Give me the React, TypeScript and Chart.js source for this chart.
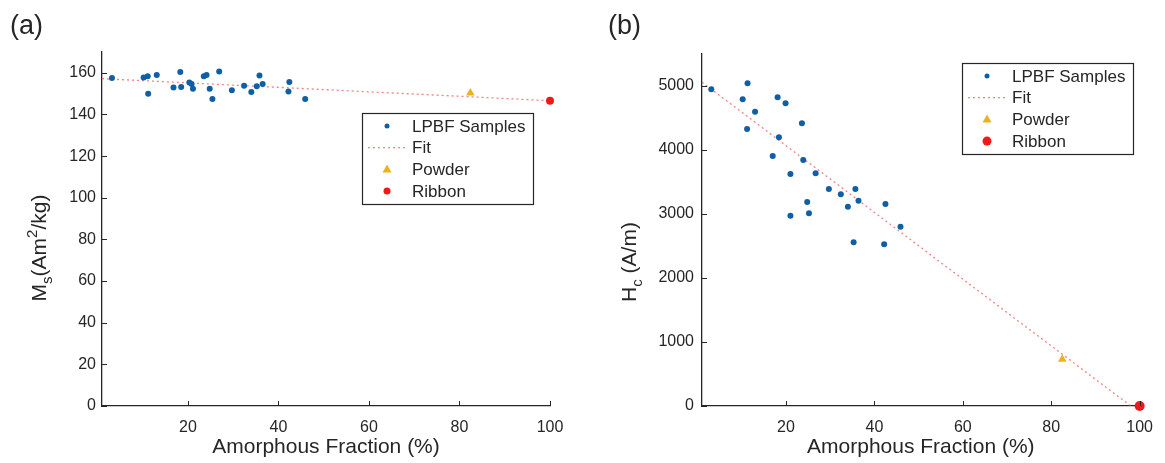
import React, { useEffect, useRef } from 'react';
import { Chart, registerables } from 'chart.js';

Chart.register(...registerables);

const FONT = '"Liberation Sans", Arial, Helvetica, sans-serif';
const TEXT = '#262626';
const BLUE = '#0f5fa6';
const ORANGE = '#EDB120';
const RED = '#f01818';
const FIT = 'rgba(235,90,90,0.75)';

// ---------- Panel (a): Ms vs amorphous fraction ----------
const msLpbfFraction = [3.2, 10.2, 11.1, 11.2, 13.1, 16.8, 18.3, 18.5, 20.3, 20.8, 21.1, 23.5, 24.1, 24.8, 25.4, 26.9, 29.7, 32.4, 34.0, 35.2, 35.8, 36.5, 42.4, 42.2, 45.9];
const msLpbfValues = [157.5, 157.8, 158.3, 149.9, 159.0, 153.0, 160.4, 153.2, 155.4, 154.6, 152.3, 158.4, 159.0, 152.3, 147.4, 160.6, 151.6, 153.8, 150.8, 153.5, 158.7, 154.6, 155.6, 151.0, 147.4];
const msFitFraction = [1, 100];
const msFitValues = [157.2, 146.6];
const msPowder = [82.4, 150.3];
const msRibbon = [100, 146.6];
const msYTicks = [0, 20, 40, 60, 80, 100, 120, 140, 160];

// ---------- Panel (b): Hc vs amorphous fraction ----------
const hcLpbfFraction = [3.1, 11.3, 10.2, 13.0, 11.2, 18.1, 19.9, 23.6, 18.4, 17.0, 23.9, 21.0, 26.7, 29.7, 32.4, 35.7, 36.4, 34.0, 24.8, 25.2, 21.0, 42.5, 45.9, 35.3, 42.2];
const hcLpbfValues = [4948, 5042, 4792, 4598, 4328, 4823, 4730, 4417, 4198, 3906, 3844, 3625, 3636, 3391, 3308, 3391, 3208, 3115, 3188, 3011, 2974, 3156, 2800, 2558, 2527];
const hcFitFraction = [1, 98];
const hcFitValues = [5060, 0];
const hcPowder = [82.5, 730];
const hcRibbon = [100, 0];
const hcYTicks = [0, 1000, 2000, 3000, 4000, 5000];

const xTicks = [20, 40, 60, 80, 100];
const legendLabels = ['LPBF Samples', 'Fit', 'Powder', 'Ribbon'];

type Part = { t: string; size: number; dy: number };

interface PanelSpec {
  letter: string;
  lpbf: { x: number; y: number }[];
  fit: { x: number; y: number }[];
  powder: number[];
  ribbon: number[];
  yMax: number;
  yTicks: number[];
  yWidth: number;
  padRight: number;
  padTop: number;
  yPad: number;
  yTitle: Part[];
  yTitleX: number;
  yTitleY: number;
  letterX: number;
  legendX: number;
  legendY: number;
  ribbonR: number;
}

const zip = (xs: number[], ys: number[]) => xs.map((x, i) => ({ x, y: ys[i] }));

function drawRich(ctx: CanvasRenderingContext2D, parts: Part[]) {
  let total = 0;
  for (const p of parts) {
    ctx.font = `${p.size}px ${FONT}`;
    total += ctx.measureText(p.t).width;
  }
  let x = -total / 2;
  for (const p of parts) {
    ctx.font = `${p.size}px ${FONT}`;
    ctx.fillText(p.t, x, p.dy);
    x += ctx.measureText(p.t).width;
  }
}

function makePlugin(spec: PanelSpec) {
  return {
    id: 'panelDecor' + spec.letter,
    afterDraw(chart: any) {
      const ctx: CanvasRenderingContext2D = chart.ctx;
      const xs = chart.scales.x;
      const ys = chart.scales.y;
      const a = chart.chartArea;
      ctx.save();
      // inward ticks
      ctx.strokeStyle = TEXT;
      ctx.lineWidth = 1;
      ctx.beginPath();
      for (const v of xTicks) {
        const px = Math.round(xs.getPixelForValue(v)) + 0.5;
        ctx.moveTo(px, a.bottom);
        ctx.lineTo(px, a.bottom - 5);
      }
      for (const v of spec.yTicks) {
        const py = Math.round(ys.getPixelForValue(v)) + 0.5;
        ctx.moveTo(a.left, py);
        ctx.lineTo(a.left + 5, py);
      }
      ctx.stroke();

      ctx.fillStyle = TEXT;
      // x title
      ctx.font = `21px ${FONT}`;
      ctx.textAlign = 'center';
      ctx.textBaseline = 'alphabetic';
      ctx.fillText('Amorphous Fraction (%)', (a.left + a.right) / 2, 453);

      // y title (rotated)
      ctx.save();
      ctx.translate(spec.yTitleX, spec.yTitleY);
      ctx.rotate(-Math.PI / 2);
      ctx.textAlign = 'left';
      drawRich(ctx, spec.yTitle);
      ctx.restore();

      // panel letter
      ctx.font = `27px ${FONT}`;
      ctx.textAlign = 'left';
      ctx.textBaseline = 'alphabetic';
      ctx.fillText(spec.letter, spec.letterX, 34);

      // legend
      const lx = spec.legendX;
      const ly = spec.legendY;
      ctx.fillStyle = '#ffffff';
      ctx.fillRect(lx, ly, 171, 91);
      ctx.strokeStyle = TEXT;
      ctx.lineWidth = 1.2;
      ctx.strokeRect(lx + 0.5, ly + 0.5, 171, 91);
      ctx.font = `17px ${FONT}`;
      ctx.textBaseline = 'middle';
      legendLabels.forEach((label, i) => {
        const ry = ly + 13 + i * 21.7;
        const mx = lx + 25;
        if (i === 0) {
          ctx.fillStyle = BLUE;
          ctx.beginPath();
          ctx.arc(mx, ry, 2.5, 0, Math.PI * 2);
          ctx.fill();
        } else if (i === 1) {
          ctx.strokeStyle = FIT;
          ctx.lineWidth = 1.3;
          ctx.setLineDash([2, 3]);
          ctx.beginPath();
          ctx.moveTo(lx + 6, ry);
          ctx.lineTo(lx + 44, ry);
          ctx.stroke();
          ctx.setLineDash([]);
        } else if (i === 2) {
          ctx.fillStyle = ORANGE;
          ctx.beginPath();
          ctx.moveTo(mx, ry - 5);
          ctx.lineTo(mx + 4.5, ry + 3);
          ctx.lineTo(mx - 4.5, ry + 3);
          ctx.closePath();
          ctx.fill();
        } else {
          ctx.fillStyle = RED;
          ctx.beginPath();
          ctx.arc(mx, ry, spec.ribbonR - 0.5, 0, Math.PI * 2);
          ctx.fill();
        }
        ctx.fillStyle = TEXT;
        ctx.textAlign = 'left';
        ctx.fillText(label, lx + 50, ry + 1);
      });
      ctx.restore();
    },
  };
}

function makeConfig(spec: PanelSpec): any {
  return {
    type: 'scatter',
    data: {
      datasets: [
        {
          label: 'LPBF Samples',
          data: spec.lpbf,
          pointStyle: 'circle',
          pointRadius: 3,
          backgroundColor: BLUE,
          borderWidth: 0,
          clip: false,
        },
        {
          label: 'Powder',
          data: [{ x: spec.powder[0], y: spec.powder[1] }],
          pointStyle: 'triangle',
          pointRadius: 5,
          backgroundColor: ORANGE,
          borderWidth: 0,
          clip: false,
        },
        {
          label: 'Ribbon',
          data: [{ x: spec.ribbon[0], y: spec.ribbon[1] }],
          pointStyle: 'circle',
          pointRadius: spec.ribbonR,
          backgroundColor: RED,
          borderWidth: 0,
          clip: false,
        },
        {
          label: 'Fit',
          data: spec.fit,
          showLine: true,
          pointRadius: 0,
          borderColor: FIT,
          borderWidth: 1.3,
          borderDash: [2, 3],
          fill: false,
        },
      ],
    },
    options: {
      animation: false,
      responsive: false,
      maintainAspectRatio: false,
      events: [],
      layout: {
        autoPadding: false,
        padding: { left: 0, right: spec.padRight, top: spec.padTop, bottom: 0 },
      },
      plugins: { legend: { display: false }, tooltip: { enabled: false }, title: { display: false } },
      scales: {
        x: {
          type: 'linear',
          min: 1,
          max: 100,
          afterFit(s: any) {
            s.height = 57;
          },
          afterBuildTicks(s: any) {
            s.ticks = xTicks.map((v) => ({ value: v }));
          },
          grid: { display: false, drawTicks: false },
          border: { display: true, color: TEXT, width: 1.3 },
          ticks: {
            font: { family: FONT, size: 16 },
            color: TEXT,
            padding: 12,
            maxRotation: 0,
            autoSkip: false,
            callback: (v: number) => String(v),
          },
        },
        y: {
          type: 'linear',
          min: 0,
          max: spec.yMax,
          afterFit(s: any) {
            s.width = spec.yWidth;
          },
          afterBuildTicks(s: any) {
            s.ticks = spec.yTicks.map((v) => ({ value: v }));
          },
          grid: { display: false, drawTicks: false },
          border: { display: true, color: TEXT, width: 1.3 },
          ticks: {
            font: { family: FONT, size: 16 },
            color: TEXT,
            padding: spec.yPad,
            autoSkip: false,
            callback: (v: number) => String(v),
          },
        },
      },
    },
    plugins: [makePlugin(spec)],
  };
}

const specA: PanelSpec = {
  letter: '(a)',
  lpbf: zip(msLpbfFraction, msLpbfValues),
  fit: zip(msFitFraction, msFitValues),
  powder: msPowder,
  ribbon: msRibbon,
  yMax: 170,
  yTicks: msYTicks,
  yWidth: 102,
  padRight: 32,
  padTop: 52,
  yPad: 6,
  yTitle: [
    { t: 'M', size: 21, dy: 0 },
    { t: 's', size: 15, dy: 6 },
    { t: '(Am', size: 21, dy: 0 },
    { t: '2', size: 15, dy: -9 },
    { t: '/kg)', size: 21, dy: 0 },
  ],
  yTitleX: 46,
  yTitleY: 248,
  letterX: 10,
  legendX: 362,
  legendY: 113,
  ribbonR: 4,
};

const specB: PanelSpec = {
  letter: '(b)',
  lpbf: zip(hcLpbfFraction, hcLpbfValues),
  fit: zip(hcFitFraction, hcFitValues),
  powder: hcPowder,
  ribbon: hcRibbon,
  yMax: 5500,
  yTicks: hcYTicks,
  yWidth: 120,
  padRight: 19,
  padTop: 54,
  yPad: 8,
  yTitle: [
    { t: 'H', size: 21, dy: 0 },
    { t: 'c', size: 15, dy: 6 },
    { t: ' (A/m)', size: 21, dy: 0 },
  ],
  yTitleX: 54,
  yTitleY: 262,
  letterX: 26,
  legendX: 380,
  legendY: 63,
  ribbonR: 5,
};

function Panel({ spec, left, width }: { spec: PanelSpec; left: number; width: number }) {
  const ref = useRef<HTMLCanvasElement | null>(null);
  useEffect(() => {
    if (!ref.current) return;
    const chart = new Chart(ref.current, makeConfig(spec));
    return () => chart.destroy();
  }, [spec]);
  return (
    <canvas
      ref={ref}
      width={width}
      height={463}
      style={{ position: 'absolute', left, top: 0, width, height: 463 }}
    />
  );
}

export default function App() {
  return (
    <div style={{ position: 'fixed', left: 0, top: 0, width: 1165, height: 463, background: '#ffffff' }}>
      <Panel spec={specA} left={0} width={582} />
      <Panel spec={specB} left={582} width={583} />
    </div>
  );
}
